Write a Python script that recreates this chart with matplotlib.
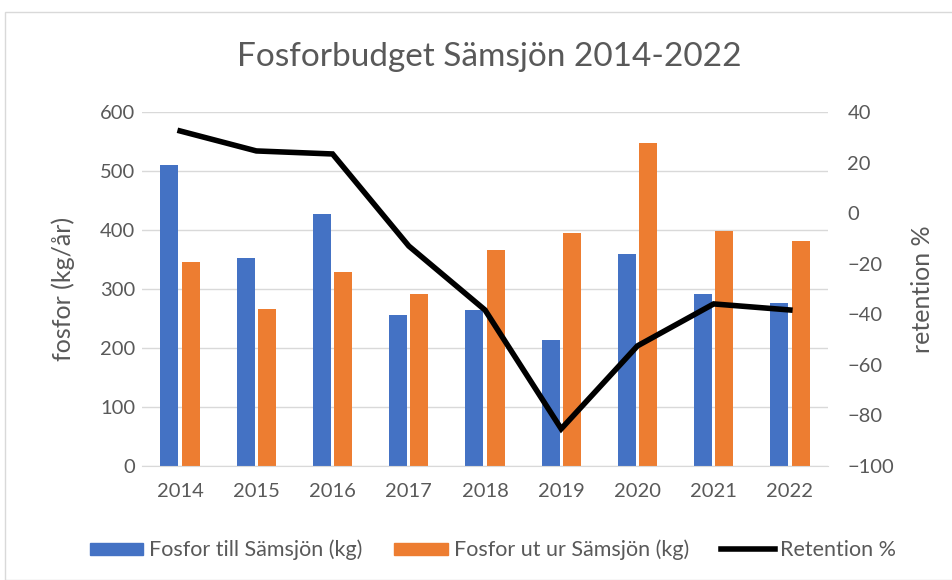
import matplotlib
matplotlib.use("Agg")
import matplotlib.pyplot as plt
import numpy as np
from matplotlib.patches import Rectangle
from matplotlib.lines import Line2D

years = ["2014", "2015", "2016", "2017", "2018", "2019", "2020", "2021", "2022"]
fosfor_till = [511, 353, 427, 256, 264, 213, 359, 292, 276]
fosfor_ut = [346, 266, 329, 292, 366, 395, 547, 398, 381]
retention = [32.5, 24.6, 23.4, -13.0, -38.3, -85.3, -52.5, -35.9, -38.3]

plt.rcParams['font.family'] = ['Lato', 'DejaVu Sans']
gray = '#595959'
blue = '#4472C4'
orange = '#ED7D31'

fig = plt.figure(figsize=(9.53, 5.80), dpi=100)
fig.patches.append(Rectangle((5/953, 0), 1, 1 - 12/580, transform=fig.transFigure,
                             fill=False, edgecolor='#D9D9D9', linewidth=1.0))

ax = fig.add_axes([142/953, 114/580, 686/953, 354/580])
x = np.arange(len(years))
w = 0.235
ax.bar(x - 0.14, fosfor_till, w, color=blue, zorder=2)
ax.bar(x + 0.14, fosfor_ut, w, color=orange, zorder=2)
ax.set_xlim(-0.5, len(years) - 0.5)
ax.set_ylim(0, 600)
ax.set_yticks(range(0, 601, 100))
ax.set_xticks(x)
ax.set_xticklabels(years)
ax.yaxis.grid(True, color='#D9D9D9', linewidth=1.0, zorder=0)
ax.set_axisbelow(True)
for s in ['top', 'right', 'left']:
    ax.spines[s].set_visible(False)
ax.spines['bottom'].set_color('#D9D9D9')
ax.tick_params(axis='both', length=0, labelsize=14.5, colors=gray, pad=5)
ax.tick_params(axis='x', pad=12)
ax.set_ylabel("fosfor (kg/år)", fontsize=18, color=gray, labelpad=18)

ax2 = ax.twinx()
ax2.plot(x, retention, color='black', linewidth=4, solid_joinstyle='miter', zorder=3)
ax2.set_ylim(-100, 40)
ax2.set_yticks(range(-100, 41, 20))
for s in ax2.spines.values():
    s.set_visible(False)
ax2.tick_params(axis='y', length=0, labelsize=14.5, colors=gray, pad=14)
ax2.set_ylabel("retention %", fontsize=18, color=gray, labelpad=12)

fig.text(489/953, 1 - 57/580, "Fosforbudget Sämsjön 2014-2022", fontsize=24, color=gray,
         ha='center', va='center')

handles = [Rectangle((0, 0), 1, 1, color=blue),
           Rectangle((0, 0), 1, 1, color=orange),
           Line2D([0], [0], color='black', linewidth=4)]
labels = ["Fosfor till Sämsjön (kg)", "Fosfor ut ur Sämsjön (kg)", "Retention %"]
fig.legend(handles, labels, loc='center', bbox_to_anchor=(493/953, 1 - 550/580),
           ncol=3, frameon=False, fontsize=15.5, labelcolor=gray,
           handlelength=2.5, handleheight=0.5, handletextpad=0.25, columnspacing=1.5)

fig.savefig("out.png", dpi=100)
